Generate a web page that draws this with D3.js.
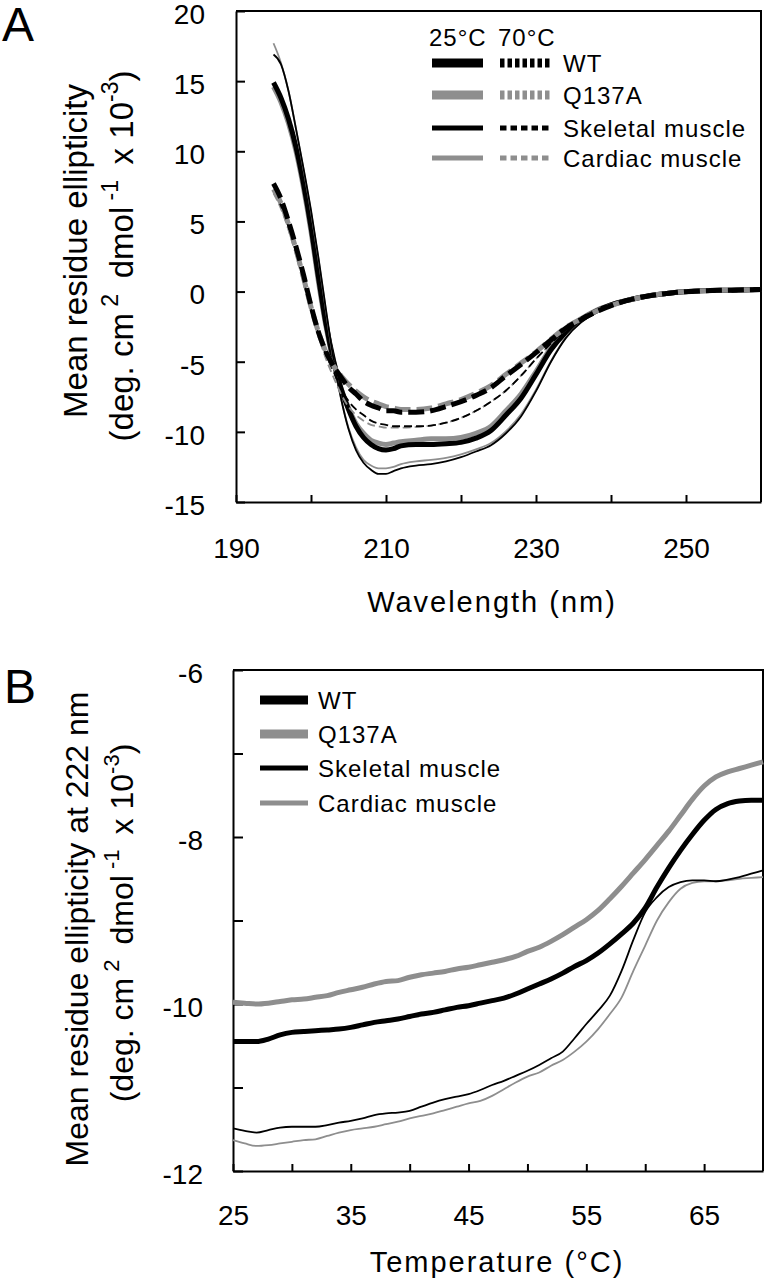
<!DOCTYPE html>
<html><head><meta charset="utf-8">
<script src="https://cdn.jsdelivr.net/npm/d3@7"></script>
<style>
html,body{margin:0;padding:0;background:#fff;}
svg{display:block;font-family:"Liberation Sans",Arial,Helvetica,sans-serif;}
</style></head><body>
<svg id="chart" width="764" height="1280"></svg>
<script>
// ---------- Panel A data: CD spectra ----------
const wavelengths = [195,196,197,198,199,200,201,202,203,204,205,206,207,208,209,210,211,212,214,216,218,220,222,224,226,228,230,232,234,236,238,240,244,248,252,256,260];
const wt25    = [14.9,13.8,12.3,10.3,7.7,4.6,1.0,-2.3,-4.9,-6.9,-8.4,-9.6,-10.4,-10.9,-11.2,-11.3,-11.2,-11.0,-10.9,-10.9,-10.85,-10.75,-10.45,-9.9,-8.8,-7.6,-5.9,-4.15,-2.9,-2.0,-1.4,-0.95,-0.4,-0.1,0.05,0.1,0.15];
const q137a25 = [14.6,13.5,12.0,10.0,7.4,4.3,0.7,-2.5,-5.0,-6.9,-8.3,-9.4,-10.1,-10.6,-10.8,-10.9,-10.8,-10.7,-10.6,-10.5,-10.5,-10.4,-10.1,-9.6,-8.5,-7.3,-5.7,-4.0,-2.8,-1.95,-1.35,-0.95,-0.4,-0.1,0.05,0.1,0.15];
const skel25  = [16.9,16.2,14.3,11.6,8.8,5.8,2.4,-1.3,-4.8,-7.6,-9.8,-11.3,-12.2,-12.7,-13.0,-13.0,-12.8,-12.6,-12.4,-12.3,-12.1,-11.8,-11.4,-10.95,-10.1,-8.9,-7.1,-5.0,-3.3,-2.2,-1.5,-1.0,-0.4,-0.1,0.05,0.1,0.15];
const card25  = [17.7,16.3,14.3,11.6,8.7,5.7,2.3,-1.4,-4.9,-7.6,-9.7,-11.1,-12.0,-12.4,-12.6,-12.6,-12.5,-12.3,-12.1,-12.0,-11.85,-11.6,-11.25,-10.8,-9.95,-8.75,-7.0,-4.95,-3.25,-2.2,-1.5,-1.0,-0.4,-0.1,0.05,0.1,0.15];
const wt70    = [7.7,6.6,5.0,3.2,1.2,-1.0,-2.9,-4.3,-5.3,-6.1,-6.8,-7.3,-7.8,-8.1,-8.3,-8.5,-8.5,-8.6,-8.6,-8.5,-8.2,-7.85,-7.4,-6.85,-6.0,-5.2,-4.35,-3.45,-2.6,-2.0,-1.45,-1.0,-0.4,-0.1,0.05,0.1,0.15];
const q137a70 = [7.3,6.3,4.8,3.0,1.0,-1.1,-2.9,-4.3,-5.3,-6.0,-6.6,-7.1,-7.5,-7.8,-8.0,-8.2,-8.3,-8.4,-8.4,-8.3,-8.0,-7.7,-7.25,-6.7,-5.9,-5.1,-4.3,-3.4,-2.55,-1.95,-1.4,-1.0,-0.4,-0.1,0.05,0.1,0.15];
const skel70  = [7.2,6.1,4.6,2.8,0.8,-1.2,-3.0,-4.5,-5.7,-6.9,-7.8,-8.4,-8.8,-9.2,-9.4,-9.5,-9.6,-9.6,-9.6,-9.55,-9.35,-9.0,-8.5,-7.85,-7.05,-6.0,-4.8,-3.7,-2.7,-2.0,-1.45,-1.0,-0.4,-0.1,0.05,0.1,0.15];
const card70  = [7.0,5.9,4.4,2.6,0.6,-1.4,-3.2,-4.8,-6.1,-7.3,-8.2,-8.8,-9.2,-9.5,-9.6,-9.7,-9.7,-9.7,-9.65,-9.55,-9.35,-9.0,-8.5,-7.85,-7.05,-6.0,-4.8,-3.7,-2.7,-2.0,-1.45,-1.0,-0.4,-0.1,0.05,0.1,0.15];
const xTicksA = [190,200,210,220,230,240,250];
const xLabelsA = [190,210,230,250];
const yTicksA = [-15,-10,-5,0,5,10,15,20];

// ---------- Panel B data: thermal melts at 222 nm ----------
const temps = [25,26,27,28,29,30,31,32,33,34,35,36,37,38,39,40,41,42,43,44,45,46,47,48,49,50,51,52,53,54,55,56,57,58,59,60,61,62,63,64,65,66,67,68,69,70];
const meltWT    = [-10.45,-10.45,-10.45,-10.42,-10.37,-10.34,-10.33,-10.32,-10.31,-10.3,-10.28,-10.25,-10.22,-10.2,-10.18,-10.15,-10.12,-10.1,-10.07,-10.04,-10.02,-9.99,-9.96,-9.93,-9.88,-9.82,-9.76,-9.7,-9.63,-9.55,-9.48,-9.39,-9.28,-9.16,-9.03,-8.85,-8.6,-8.37,-8.16,-7.97,-7.8,-7.67,-7.6,-7.57,-7.56,-7.56];
const meltQ137A = [-9.98,-9.99,-10.0,-9.99,-9.97,-9.95,-9.94,-9.92,-9.9,-9.86,-9.83,-9.8,-9.76,-9.73,-9.72,-9.68,-9.65,-9.63,-9.61,-9.58,-9.56,-9.53,-9.5,-9.47,-9.43,-9.37,-9.32,-9.25,-9.17,-9.08,-8.99,-8.88,-8.74,-8.59,-8.43,-8.27,-8.1,-7.93,-7.74,-7.55,-7.39,-7.28,-7.22,-7.18,-7.14,-7.1];
const meltSkel  = [-11.49,-11.52,-11.54,-11.51,-11.48,-11.47,-11.47,-11.47,-11.45,-11.42,-11.4,-11.37,-11.33,-11.31,-11.3,-11.28,-11.23,-11.18,-11.14,-11.11,-11.08,-11.03,-10.97,-10.92,-10.86,-10.8,-10.73,-10.65,-10.57,-10.41,-10.24,-10.08,-9.9,-9.6,-9.23,-8.9,-8.72,-8.6,-8.54,-8.52,-8.52,-8.53,-8.51,-8.48,-8.44,-8.4];
const meltCard  = [-11.63,-11.67,-11.7,-11.69,-11.67,-11.65,-11.63,-11.62,-11.58,-11.54,-11.51,-11.49,-11.47,-11.44,-11.41,-11.37,-11.34,-11.31,-11.27,-11.23,-11.19,-11.16,-11.1,-11.02,-10.94,-10.87,-10.82,-10.74,-10.67,-10.57,-10.45,-10.3,-10.12,-9.92,-9.6,-9.3,-9.0,-8.78,-8.62,-8.55,-8.53,-8.53,-8.52,-8.5,-8.49,-8.48];
const xTicksB = [25,30,35,40,45,50,55,60,65];
const xLabelsB = [25,35,45,55,65];
const yTicksB = [-12,-11,-10,-9,-8,-7,-6];
const yLabelsB = [-12,-10,-8,-6];

const sampleNames = ["WT","Q137A","Skeletal muscle","Cardiac muscle"];

// ---------- styles ----------
const BLACK = "#000", GRAY = "#8e8e8e";
const sty = {
  "WT":              {color:BLACK, w:5,   lw:9},
  "Q137A":           {color:GRAY,  w:5,   lw:9},
  "Skeletal muscle": {color:BLACK, w:1.8, lw:5},
  "Cardiac muscle":  {color:GRAY,  w:1.8, lw:5}
};
const svg = d3.select("#chart");

function styleAxis(g, fs, dy){
  g.attr("font-family",null);
  g.selectAll(".domain").attr("stroke","#000").attr("stroke-width",2);
  g.selectAll(".tick line").attr("stroke","#000").attr("stroke-width",2);
  const t = g.selectAll(".tick text").attr("fill","#000").attr("font-size",fs);
  if (dy) t.attr("dy",dy);
}
function unitsLabel(x, cy, fs){
  const t = svg.append("text").attr("transform",`translate(${x},${cy}) rotate(-90)`)
    .attr("text-anchor","middle").attr("font-size",fs).attr("fill","#000");
  const sf = Math.round(fs*0.7), sh = fs*0.45;
  t.append("tspan").text("(deg. cm");
  t.append("tspan").attr("font-size",sf).attr("dy",-sh).text("\u00a02\u00a0");
  t.append("tspan").attr("dy",sh).text(" dmol");
  t.append("tspan").attr("font-size",sf).attr("dy",-sh).text("\u00a0-1\u00a0");
  t.append("tspan").attr("dy",sh).text(" x 10");
  t.append("tspan").attr("font-size",sf).attr("dy",-sh).text("-3");
  t.append("tspan").attr("dy",sh).text(")");
}

// ================= PANEL A =================
const A = {left:236, right:761, top:11, bottom:502};
const xA = d3.scaleLinear().domain([190,260]).range([A.left,A.right]);
const yA = d3.scaleLinear().domain([-15,20]).range([A.bottom,A.top]);

const gxA = svg.append("g").attr("transform",`translate(0,${A.bottom})`)
  .call(d3.axisBottom(xA).tickValues(xTicksA).tickFormat(d => xLabelsA.includes(d) ? String(d) : "")
    .tickSizeInner(-7).tickSizeOuter(0).tickPadding(36));
styleAxis(gxA, 28);
const gyA = svg.append("g").attr("transform",`translate(${A.left},0)`)
  .call(d3.axisLeft(yA).tickValues(yTicksA).tickFormat(d => String(d))
    .tickSizeInner(-9).tickSizeOuter(0).tickPadding(31));
styleAxis(gyA, 28, "0.44em");
svg.append("path").attr("fill","none").attr("stroke","#000").attr("stroke-width",2)
  .attr("d",`M${xA(190)},${yA(20)}H${xA(260)}V${yA(-15)}`);

const lineA = d3.line().x((d,i)=>xA(wavelengths[i])).y(d=>yA(d)).curve(d3.curveMonotoneX);
const seriesA = [
  {name:"Q137A", v:q137a25, dash:null},
  {name:"WT", v:wt25, dash:null},
  {name:"Cardiac muscle", v:card25, dash:null},
  {name:"Skeletal muscle", v:skel25, dash:null},
  {name:"Cardiac muscle", v:card70, dash:"8,4"},
  {name:"Skeletal muscle", v:skel70, dash:"8,4"},
  {name:"Q137A", v:q137a70, dash:"16,6"},
  {name:"WT", v:wt70, dash:"16,6"}
];
svg.append("g").selectAll("path").data(seriesA).join("path")
  .attr("fill","none").attr("stroke",d=>sty[d.name].color)
  .attr("stroke-width",d=>sty[d.name].w)
  .attr("stroke-dasharray",d=>d.dash)
  .attr("d",d=>lineA(d.v));

// legend A
const legA = svg.append("g").attr("font-size",24).attr("letter-spacing",1).attr("fill","#000");
legA.append("text").attr("x",429).attr("y",46).text("25°C");
legA.append("text").attr("x",498).attr("y",46).text("70°C");
const rowYA = [63,95,128,158];
sampleNames.forEach((n,i)=>{
  const s = sty[n], y = rowYA[i];
  legA.append("line").attr("x1",432).attr("x2",483).attr("y1",y).attr("y2",y)
    .attr("stroke",s.color).attr("stroke-width",s.lw);
  legA.append("line").attr("x1",500).attr("x2",552).attr("y1",y).attr("y2",y)
    .attr("stroke",s.color).attr("stroke-width",s.lw)
    .attr("stroke-dasharray", s.w>3 ? "4.5,3" : "6.5,4");
  legA.append("text").attr("x",563).attr("y",y+8.5).text(n);
});

// titles A
svg.append("text").attr("x",2).attr("y",41).attr("font-size",48).text("A");
svg.append("text").attr("x",492).attr("y",612).attr("text-anchor","middle")
  .attr("font-size",29).attr("letter-spacing",2).text("Wavelength (nm)");
svg.append("text").attr("transform",`translate(87,251) rotate(-90)`).attr("text-anchor","middle")
  .attr("font-size",33).text("Mean residue ellipticity");
unitsLabel(133, 256, 33);

// ================= PANEL B =================
const B = {left:233, right:763, top:670, bottom:1171};
const xB = d3.scaleLinear().domain([25,70]).range([B.left,B.right]);
const yB = d3.scaleLinear().domain([-12,-6]).range([B.bottom,B.top]);

const gxB = svg.append("g").attr("transform",`translate(0,${B.bottom})`)
  .call(d3.axisBottom(xB).tickValues(xTicksB).tickFormat(d => xLabelsB.includes(d) ? String(d) : "")
    .tickSizeInner(-7).tickSizeOuter(0).tickPadding(34));
styleAxis(gxB, 28);
const gyB = svg.append("g").attr("transform",`translate(${B.left},0)`)
  .call(d3.axisLeft(yB).tickValues(yTicksB).tickFormat(d => yLabelsB.includes(d) ? String(d) : "")
    .tickSizeInner(-10).tickSizeOuter(0).tickPadding(30));
styleAxis(gyB, 28, "0.44em");
svg.append("path").attr("fill","none").attr("stroke","#000").attr("stroke-width",2)
  .attr("d",`M${xB(25)},${yB(-6)}H${xB(70)}V${yB(-12)}`);

const lineB = d3.line().x((d,i)=>xB(temps[i])).y(d=>yB(d)).curve(d3.curveMonotoneX);
const seriesB = [
  {name:"Cardiac muscle", v:meltCard},
  {name:"Skeletal muscle", v:meltSkel},
  {name:"Q137A", v:meltQ137A},
  {name:"WT", v:meltWT}
];
svg.append("g").selectAll("path").data(seriesB).join("path")
  .attr("fill","none").attr("stroke",d=>sty[d.name].color)
  .attr("stroke-width",d=>sty[d.name].w)
  .attr("d",d=>lineB(d.v));

// legend B
const legB = svg.append("g").attr("font-size",24).attr("letter-spacing",1).attr("fill","#000");
const rowYB = [700,734,768,803];
sampleNames.forEach((n,i)=>{
  const s = sty[n], y = rowYB[i];
  legB.append("line").attr("x1",260).attr("x2",308).attr("y1",y).attr("y2",y)
    .attr("stroke",s.color).attr("stroke-width",s.lw);
  legB.append("text").attr("x",318).attr("y",y+8.5).text(n);
});

// titles B
svg.append("text").attr("x",4).attr("y",703).attr("font-size",48).text("B");
svg.append("text").attr("x",497).attr("y",1272).attr("text-anchor","middle")
  .attr("font-size",29).attr("letter-spacing",2).text("Temperature (°C)");
svg.append("text").attr("transform",`translate(88,929) rotate(-90)`).attr("text-anchor","middle")
  .attr("font-size",32).text("Mean residue ellipticity at 222 nm");
unitsLabel(133, 923, 32);
</script>
</body></html>
